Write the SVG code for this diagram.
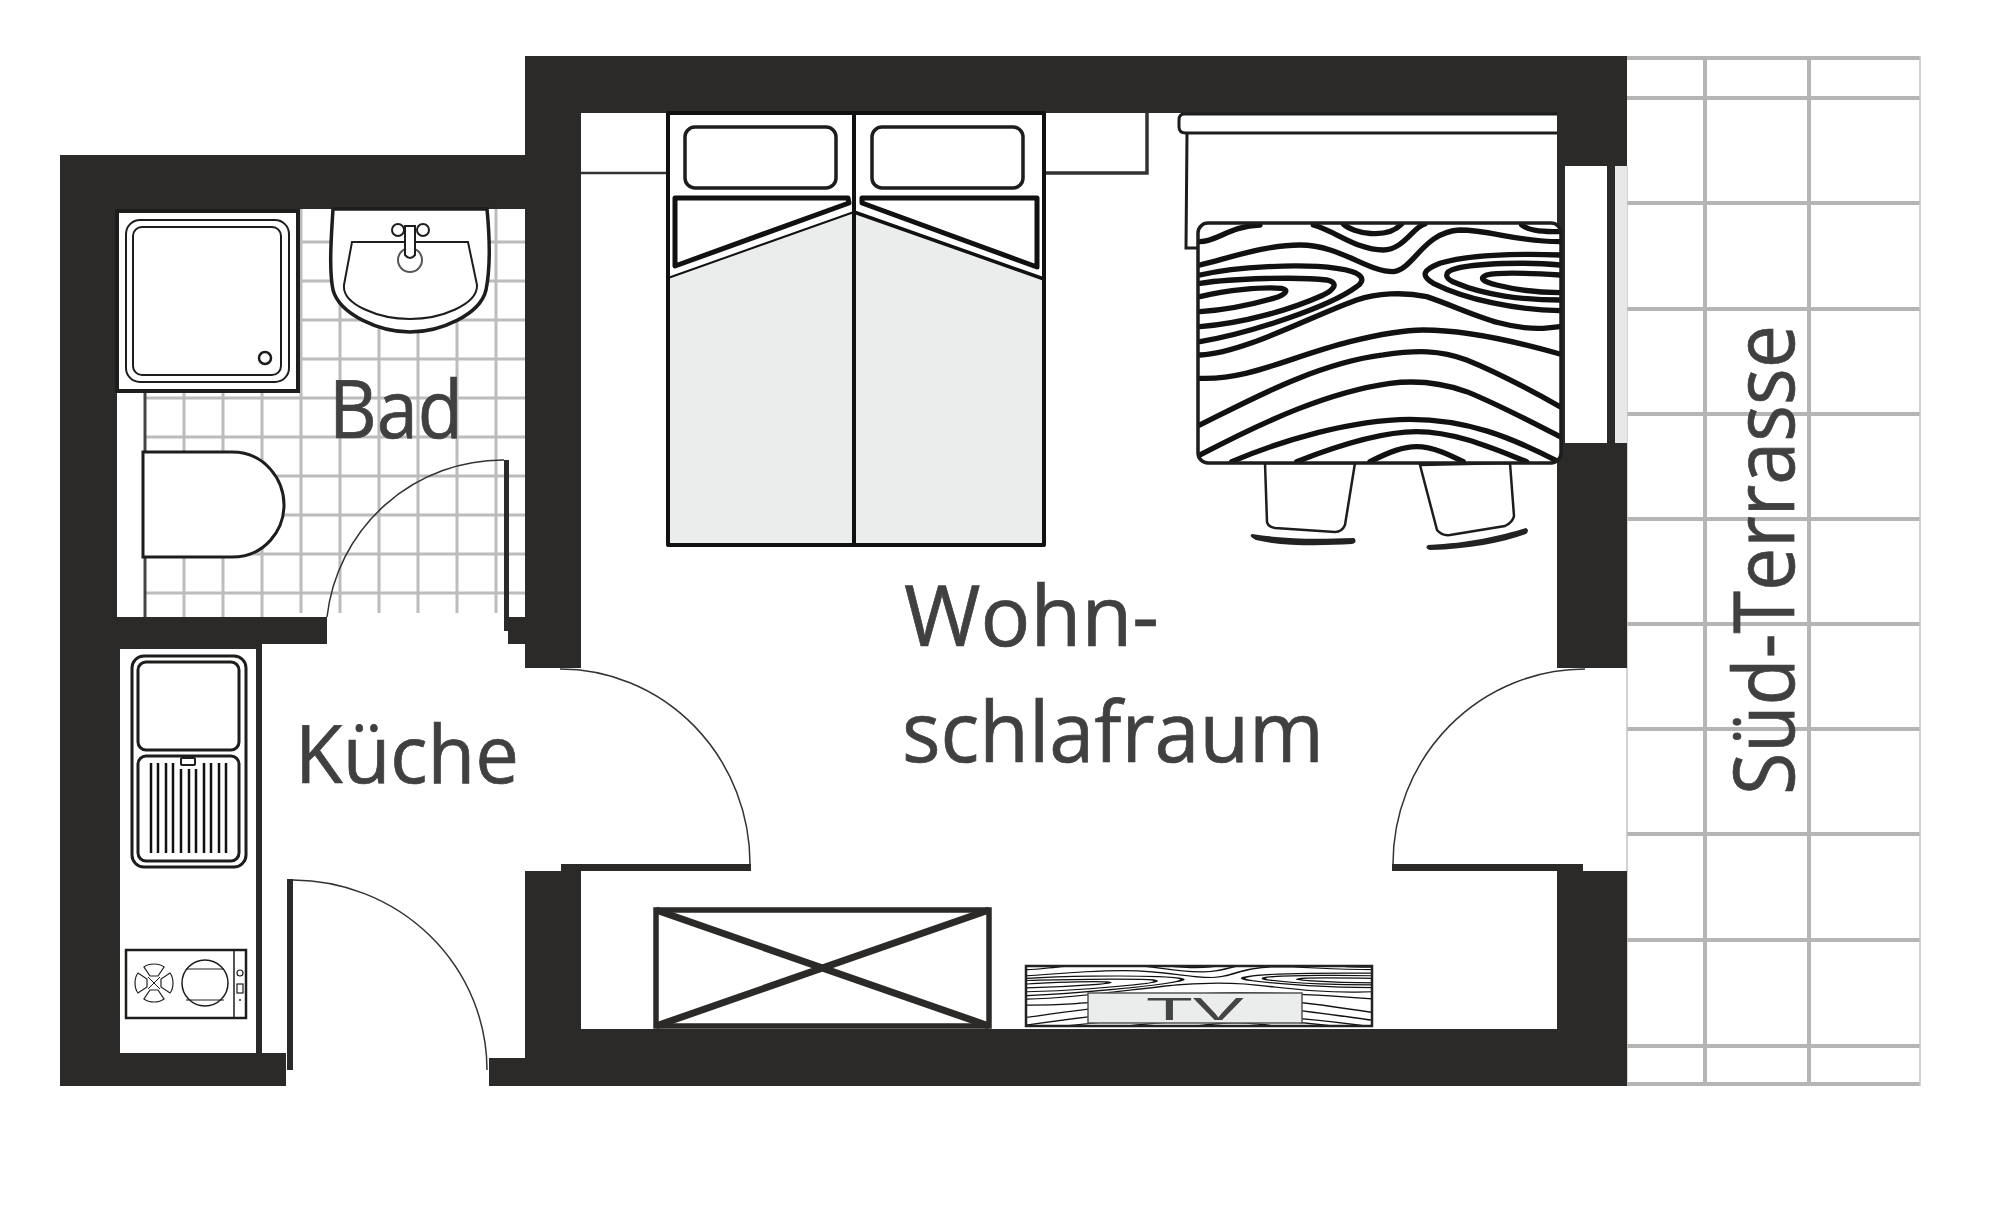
<svg xmlns="http://www.w3.org/2000/svg" xmlns:xlink="http://www.w3.org/1999/xlink" width="2000" height="1219" viewBox="0 0 2000 1219">
<style>
.w{fill:#2b2a29}
.t{stroke:#bcbcbc;stroke-width:3;fill:none}
.tt{stroke:#b5b5b5;stroke-width:4;fill:none}
.o{fill:#fff;stroke:#1d1d1b}
.n{fill:none;stroke:#1d1d1b}
.a{fill:none;stroke:#333;stroke-width:1.5}
.l{font-family:"Open Sans","Liberation Sans",sans-serif;font-size:84px;fill:#404040;stroke:#404040;stroke-width:.7}
.g path{fill:none;stroke:#111;stroke-linecap:round}
.s{fill:#ebecec}
.b{fill:none;stroke:#111;stroke-linejoin:round}
</style>
<defs>
<clipPath id="tc"><rect x="1198" y="223" width="363" height="240" rx="10"/></clipPath>
<clipPath id="vc"><rect x="1025" y="965" width="348" height="62"/></clipPath>
<g id="grain" class="g">
<path d="M150 425C200 425 240 378 330 375"/>
<path d="M490 375C560 395 620 450 700 450C760 450 790 380 825 372"/>
<path d="M580 372C610 400 710 420 755 372"/>
<path d="M1115 375C1140 395 1190 395 1230 395"/>
<path d="M150 495C250 470 350 435 450 435C570 435 650 515 730 515C790 510 820 395 930 390C1020 390 1100 425 1230 425"/>
<path d="M150 525C260 500 450 490 560 505C640 515 650 540 620 560C540 620 300 700 150 725"/>
<path d="M150 550C250 535 450 530 530 540C570 548 550 570 520 585C420 630 280 670 150 680"/>
<path d="M150 590C230 570 340 560 395 565C420 570 405 585 370 595C300 615 220 630 150 635"/>
<path d="M150 765C280 760 480 650 620 600C680 580 760 575 830 590C950 630 1050 690 1180 685L1230 680"/>
<path d="M1230 465C1100 460 950 465 870 490C820 510 810 525 850 550C950 600 1100 630 1230 632"/>
<path d="M1230 495C1130 485 980 490 920 505C880 515 880 535 920 550C1000 585 1120 600 1230 600"/>
<path d="M1230 525C1150 520 1050 515 1010 525C985 535 1000 545 1040 555C1100 570 1170 578 1230 578"/>
<path d="M150 835C300 840 420 770 600 725C680 705 750 690 820 690C950 690 1100 725 1230 762"/>
<path d="M150 975C300 900 500 790 700 765C800 750 870 750 950 780C1050 820 1150 875 1230 920"/>
<path d="M150 1065C350 960 540 875 720 850C800 840 880 850 950 875C1060 920 1150 970 1230 1010"/>
<path d="M245 1085C400 1020 600 960 780 958C950 958 1080 1010 1225 1085"/>
<path d="M440 1085C580 1030 700 995 800 995C920 995 1040 1050 1130 1085"/>
<path d="M660 1085C720 1055 760 1040 800 1040C850 1040 900 1065 940 1085"/>
</g>
<path id="petal" d="M-4-7L4-7L10-16C5-20-5-20-10-16Z" fill="#fff" stroke="#222" stroke-width="1.2"/>
</defs>
<rect width="2000" height="1219" fill="#fff"/>

<g id="terrace">
<path class="tt" d="M1627 58H1920M1627 98H1920M1627 203H1920M1627 309H1920M1627 414H1920M1627 519H1920M1627 624H1920M1627 729H1920M1627 834H1920M1627 940H1920M1627 1046H1920M1627 1084H1920M1705 56V1086M1809 56V1086"/>
<path d="M1920 56V1086M1627 166V1086" fill="none" stroke="#c4c4c4" stroke-width="1.5"/>
</g>

<g id="bath-floor">
<path class="t" d="M184 391V617M223 391V617M262 391V617M301 209V613M340 209V613M379 209V613M418 209V613M457 209V613M496 209V613"/>
<path class="t" d="M145 242H526M145 281H526M145 320H526M145 359H526M145 398H526M145 437H526M145 476H526M145 515H526M145 554H526M145 593H526"/>
<path d="M145 391V617" stroke="#444" stroke-width="3" fill="none"/>
</g>

<g id="walls">
<rect class="w" x="60" y="155" width="465" height="54"/>
<rect class="w" x="60" y="155" width="57" height="494"/>
<rect class="w" x="60" y="649" width="60" height="437"/>
<rect class="w" x="60" y="1053" width="226" height="33"/>
<rect class="w" x="256" y="644" width="6" height="414"/>
<rect class="w" x="117" y="617" width="210" height="27"/>
<rect class="w" x="117" y="644" width="139" height="5"/>
<rect class="w" x="508" y="617" width="18" height="27"/>
<rect class="w" x="525" y="56" width="56" height="612"/>
<rect class="w" x="525" y="56" width="1102" height="57"/>
<rect class="w" x="1557" y="56" width="70" height="110"/>
<rect class="w" x="1557" y="443" width="70" height="225"/>
<rect class="w" x="1557" y="871" width="70" height="215"/>
<rect class="w" x="525" y="871" width="56" height="215"/>
<rect class="w" x="525" y="1029" width="1102" height="57"/>
<rect class="w" x="489" y="1058" width="36" height="28"/>
</g>

<g id="window">
<rect class="w" x="1557" y="166" width="8" height="277"/>
<rect class="w" x="1607" y="166" width="8" height="277"/>
<rect x="1615" y="166" width="12" height="277" fill="#e8e8e8"/>
</g>

<g id="doors">
<rect class="w" x="504" y="460" width="5" height="171"/>
<path class="a" d="M504 460A177 177 0 0 0 327 617"/>
<rect class="w" x="287" y="879" width="6" height="191"/>
<path class="a" d="M293 880A195 190 0 0 1 487 1070"/>
<rect class="w" x="561" y="864" width="190" height="7"/>
<path class="a" d="M560 669A190 195 0 0 1 750 864"/>
<rect class="w" x="1392" y="864" width="191" height="7"/>
<path class="a" d="M1393 864A192 195 0 0 1 1585 669"/>
</g>

<g id="shower">
<rect class="o" style="stroke-width:4" x="117" y="211" width="181" height="180"/>
<rect class="n" style="stroke-width:2" x="126" y="220" width="163" height="162" rx="14"/>
<rect class="n" style="stroke-width:2" x="133" y="227" width="148" height="148" rx="9"/>
<circle class="n" style="stroke-width:2.5" cx="265" cy="358" r="6"/>
</g>

<g id="washbasin">
<path class="o" style="stroke-width:3.5" d="M333 209C331 240 329 270 333 290C340 315 380 332 410 332C440 332 480 315 486 290C490 270 490 240 487 209Z"/>
<path class="n" style="stroke-width:2" d="M352 242H468L477 285C478 305 440 319 410 319C380 319 342 305 344 285Z"/>
<circle cx="410" cy="260" r="12" fill="none" stroke="#555" stroke-width="2"/>
<circle class="n" style="stroke-width:2" cx="398" cy="230" r="6"/>
<circle class="n" style="stroke-width:2" cx="423" cy="230" r="6"/>
<path class="o" style="stroke-width:2" d="M405 226H415V255Q410 261 405 255Z"/>
</g>

<g id="toilet">
<path class="o" style="stroke-width:3" d="M143 452H232C265 452 284 480 284 505C284 530 265 557 232 557H143Z"/>
</g>

<g id="kitchen-sink">
<rect class="o" style="stroke-width:3" x="132" y="656" width="114" height="211" rx="12"/>
<rect class="o" style="stroke-width:3" x="138" y="662" width="101" height="88" rx="8"/>
<rect class="o" style="stroke-width:3" x="138" y="756" width="101" height="105" rx="8"/>
<path fill="none" stroke="#111" stroke-width="2.5" d="M151 763V853M158 763V853M166 763V853M173 763V853M181 769V853M189 769V853M196 769V853M204 763V853M211 763V853M219 763V853M226 763V853"/>
<rect class="o" style="stroke-width:2" x="181" y="758" width="14" height="7" rx="1"/>
</g>

<g id="hob">
<rect class="o" style="stroke-width:2.5" x="126" y="950" width="120" height="68"/>
<path class="n" style="stroke-width:1.5" d="M234 950V1018"/>
<circle class="n" style="stroke-width:1.5" cx="205" cy="983" r="23"/>
<path class="n" style="stroke-width:1" d="M186 969H224M186 1000H224"/>
<use href="#petal" transform="translate(154 983)"/>
<use href="#petal" transform="translate(154 983) rotate(90)"/>
<use href="#petal" transform="translate(154 983) rotate(180)"/>
<use href="#petal" transform="translate(154 983) rotate(270)"/>
<path class="n" style="stroke-width:1" d="M148 977L160 989M160 977L148 989"/>
<circle class="n" style="stroke-width:1.2" cx="240" cy="973" r="3"/>
<rect class="n" style="stroke-width:1.2" x="237" y="984" width="6" height="9"/>
<circle cx="240" cy="1000" r="1" fill="#222"/>
</g>

<g id="shelves">
<path d="M581 173H668" stroke="#333" stroke-width="2.5" fill="none"/>
<path d="M1044 113V173H1147V113" stroke="#333" stroke-width="3.5" fill="#fff"/>
</g>

<g id="bed">
<rect x="668" y="113" width="376" height="432" fill="#fff"/>
<path class="s" d="M668 278L854 212V545H668Z"/>
<path class="s" d="M854 212L1044 279V545H854Z"/>
<path fill="none" stroke="#111" stroke-width="2" d="M668 278L854 212"/>
<path fill="none" stroke="#111" stroke-width="3.5" d="M854 212L1044 279"/>
<rect class="b" style="stroke-width:4" x="668" y="113" width="376" height="432"/>
<path class="b" style="stroke-width:4" d="M854 113V545"/>
<rect class="n" style="stroke-width:3.5" x="685" y="127" width="151" height="61" rx="10"/>
<rect class="n" style="stroke-width:3.5" x="872" y="127" width="151" height="61" rx="10"/>
<path class="b" style="stroke-width:5" d="M675 198H848L849 203L675 266Z"/>
<path class="b" style="stroke-width:5" d="M862 198H1037V267L862 203Z"/>
</g>

<g id="dining-table">
<path class="o" style="stroke-width:3" d="M1557 114H1184Q1179 114 1179 120V127Q1179 133 1186 133H1557"/>
<path d="M1187 133L1186 248H1197" fill="none" stroke="#1d1d1b" stroke-width="3"/>
<path class="o" style="stroke-width:2.5" d="M1265 463L1267 522Q1268 527 1275 528L1335 532Q1342 532 1345 525L1355 463Z"/>
<path class="o" style="stroke-width:2.5" d="M1420 465L1437 530Q1442 536 1450 535L1505 526Q1513 522 1514 516L1510 463Z"/>
<path fill="#222" d="M1252 534C1290 540 1320 539 1354 538Q1358 542 1352 544C1320 546 1280 546 1256 540Q1248 536 1252 534Z"/>
<path fill="#222" d="M1428 545C1470 543 1500 536 1526 528Q1530 530 1526 534C1500 543 1470 549 1430 550Q1424 548 1428 545Z"/>
<rect x="1198" y="223" width="363" height="240" rx="10" fill="#fff"/>
<g clip-path="url(#tc)"><use href="#grain" stroke-width="16" transform="translate(1150 100) scale(.3333)"/></g>
<rect x="1198" y="223" width="363" height="240" rx="10" fill="none" stroke="#1d1d1b" stroke-width="3.5"/>
</g>

<g id="wardrobe">
<rect x="656" y="910" width="333" height="116" fill="#fff" stroke="#2b2a29" stroke-width="5.5"/>
<path d="M656 910L989 1026M989 910L656 1026" stroke="#2b2a29" stroke-width="7" fill="none"/>
</g>

<g id="tv">
<rect x="1026" y="966" width="346" height="60" fill="#fff"/>
<g clip-path="url(#vc)"><use href="#grain" stroke-width="14" transform="translate(979 933) scale(.32 .0864)"/></g>
<rect x="1026" y="966" width="346" height="60" fill="none" stroke="#222" stroke-width="2.5"/>
<rect class="s" x="1088" y="993" width="214" height="30" stroke="#555" stroke-width="1.5"/>
<text x="1146" y="1020" font-family="Liberation Sans, sans-serif" font-size="32" fill="#444" textLength="98" lengthAdjust="spacingAndGlyphs">TV</text>
</g>

<g id="labels">
<text class="l" x="329" y="438" style="font-size:80px" textLength="134" lengthAdjust="spacingAndGlyphs">Bad</text>
<text class="l" x="295" y="783" style="font-size:80px" textLength="224" lengthAdjust="spacingAndGlyphs">Küche</text>
<text class="l" x="904" y="646" textLength="255" lengthAdjust="spacingAndGlyphs">Wohn-</text>
<text class="l" x="902" y="762" textLength="422" lengthAdjust="spacingAndGlyphs">schlafraum</text>
<text class="l" transform="translate(1794 795) rotate(-90)" textLength="470" lengthAdjust="spacingAndGlyphs">Süd-Terrasse</text>
</g>
</svg>
